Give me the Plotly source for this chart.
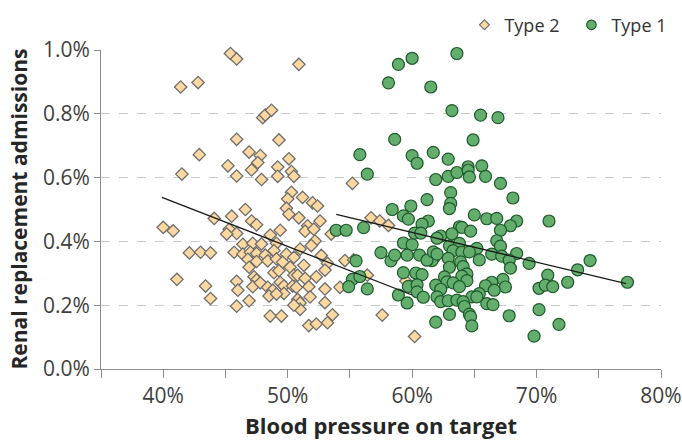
import plotly.graph_objects as go

# Type 2 (diamonds): blood pressure on target (%), renal replacement admissions (%)
type2_x = [45.4, 45.9, 50.9, 41.4, 42.8, 48.0, 48.2, 48.7, 45.9, 49.3,
           42.9, 46.9, 47.8, 50.1, 45.2, 47.6, 47.1, 49.2, 50.3, 41.5,
           45.9, 47.9, 49.2, 50.5, 50.3, 51.2, 50.0, 52.0, 52.4, 49.9,
           50.1, 46.6, 50.9, 45.5, 44.1, 47.1, 47.5, 52.6, 51.6, 51.4,
           52.1, 40.0, 40.8, 45.3, 45.9, 45.1, 49.4, 48.6, 52.2, 51.9,
           51.0, 46.4, 47.2, 47.9, 49.1, 42.1, 43.0, 43.8, 45.7, 46.4,
           47.0, 47.5, 48.2, 48.9, 49.9, 50.5, 52.7, 53.2, 46.8, 47.5,
           48.4, 49.1, 49.6, 51.3, 46.9, 53.0, 50.2, 48.9, 49.3, 50.5,
           50.8, 51.4, 52.3, 47.3, 47.5, 41.1, 43.4, 45.9, 46.0, 47.2,
           47.8, 49.4, 48.4, 48.8, 49.7, 49.7, 50.4, 50.7, 51.7, 53.0,
           48.5, 49.1, 51.8, 50.8, 51.0, 51.0, 50.5, 43.8, 46.9, 45.9,
           53.0, 53.6, 48.6, 49.5, 51.7, 52.3, 53.2, 53.5, 55.2, 56.7,
           57.4, 58.1, 54.6, 55.3, 56.4, 54.2, 59.5, 57.6, 60.2]
type2_y = [0.989, 0.972, 0.955, 0.884, 0.898, 0.788, 0.796, 0.811, 0.720, 0.718,
           0.672, 0.680, 0.669, 0.659, 0.637, 0.647, 0.624, 0.633, 0.619, 0.611,
           0.605, 0.594, 0.604, 0.604, 0.554, 0.538, 0.533, 0.521, 0.511, 0.504,
           0.485, 0.500, 0.474, 0.479, 0.472, 0.464, 0.452, 0.464, 0.449, 0.432,
           0.438, 0.444, 0.433, 0.438, 0.425, 0.423, 0.435, 0.420, 0.401, 0.387,
           0.376, 0.391, 0.394, 0.392, 0.394, 0.364, 0.366, 0.364, 0.366, 0.360,
           0.366, 0.362, 0.357, 0.371, 0.360, 0.350, 0.356, 0.331, 0.344, 0.337,
           0.339, 0.345, 0.335, 0.325, 0.319, 0.310, 0.319, 0.302, 0.308, 0.294,
           0.294, 0.284, 0.289, 0.289, 0.279, 0.281, 0.260, 0.275, 0.247, 0.258,
           0.270, 0.272, 0.256, 0.247, 0.260, 0.237, 0.260, 0.256, 0.258, 0.251,
           0.229, 0.235, 0.226, 0.218, 0.207, 0.187, 0.200, 0.221, 0.214, 0.197,
           0.208, 0.170, 0.166, 0.166, 0.136, 0.141, 0.145, 0.423, 0.582, 0.474,
           0.464, 0.450, 0.340, 0.342, 0.294, 0.256, 0.276, 0.169, 0.102]

# Type 1 (circles)
type1_x = [63.6, 58.9, 60.0, 58.1, 61.5, 63.2, 65.5, 66.9, 58.6, 64.9,
           55.8, 60.0, 60.4, 61.7, 62.9, 56.4, 61.9, 62.9, 63.6, 64.5,
           64.5, 64.6, 65.6, 65.9, 67.1, 63.1, 61.2, 68.1, 63.1, 63.0,
           65.0, 66.0, 66.8, 68.4, 67.9, 67.1, 61.3, 63.8, 64.0, 64.7,
           62.3, 63.2, 62.0, 66.8, 63.0, 63.8, 65.2, 67.1, 63.3, 64.0,
           64.6, 66.4, 67.2, 68.4, 67.8, 69.4, 61.8, 61.6, 62.9, 65.4,
           63.9, 64.1, 63.0, 67.9, 64.4, 64.0, 62.6, 62.8, 64.4, 63.3,
           63.8, 61.9, 62.3, 67.3, 66.4, 65.9, 67.5, 66.6, 65.4, 64.8,
           65.2, 62.0, 62.3, 62.9, 63.6, 64.1, 64.2, 66.0, 66.5, 70.2,
           70.2, 63.0, 64.6, 64.7, 67.8, 61.9, 64.8, 69.8, 71.0, 74.3,
           73.3, 70.9, 70.7, 71.3, 72.5, 77.3, 71.8, 59.9, 58.4, 59.3,
           59.7, 60.8, 53.9, 54.7, 56.1, 60.2, 60.7, 59.3, 60.0, 57.5,
           58.3, 58.6, 59.6, 60.6, 61.2, 61.7, 62.0, 55.5, 59.3, 60.3,
           60.8, 55.2, 55.8, 54.9, 56.4, 59.7, 60.4, 60.4, 58.9, 60.9,
           59.6]
type1_y = [0.989, 0.955, 0.974, 0.897, 0.884, 0.810, 0.796, 0.788, 0.720, 0.718,
           0.672, 0.669, 0.645, 0.679, 0.658, 0.611, 0.594, 0.604, 0.616, 0.634,
           0.623, 0.602, 0.637, 0.604, 0.582, 0.553, 0.531, 0.536, 0.519, 0.503,
           0.483, 0.471, 0.472, 0.464, 0.449, 0.435, 0.464, 0.446, 0.444, 0.432,
           0.417, 0.424, 0.410, 0.402, 0.386, 0.394, 0.378, 0.385, 0.371, 0.366,
           0.367, 0.360, 0.354, 0.362, 0.341, 0.331, 0.352, 0.340, 0.347, 0.342,
           0.336, 0.321, 0.319, 0.316, 0.298, 0.291, 0.289, 0.273, 0.277, 0.270,
           0.258, 0.263, 0.250, 0.281, 0.272, 0.261, 0.257, 0.247, 0.236, 0.226,
           0.226, 0.226, 0.211, 0.214, 0.216, 0.211, 0.196, 0.205, 0.202, 0.253,
           0.186, 0.171, 0.172, 0.164, 0.167, 0.147, 0.135, 0.103, 0.464, 0.340,
           0.311, 0.294, 0.263, 0.258, 0.272, 0.272, 0.140, 0.511, 0.500, 0.480,
           0.470, 0.454, 0.435, 0.435, 0.443, 0.426, 0.426, 0.395, 0.390, 0.365,
           0.339, 0.357, 0.357, 0.357, 0.341, 0.367, 0.360, 0.339, 0.302, 0.301,
           0.296, 0.281, 0.290, 0.258, 0.251, 0.259, 0.264, 0.242, 0.232, 0.225,
           0.207]

# Trend lines (end points)
trend2_x = [39.9, 60.0]
trend2_y = [0.538, 0.232]
trend1_x = [53.9, 77.2]
trend1_y = [0.485, 0.268]

x_tickvals = [35, 40, 45, 50, 55, 60, 65, 70, 75, 80]
x_ticktext = ["", "40%", "", "50%", "", "60%", "", "70%", "", "80%"]
y_tickvals = [0.0, 0.2, 0.4, 0.6, 0.8, 1.0]
y_ticktext = ["0.0%", "0.2%", "0.4%", "0.6%", "0.8%", "1.0%"]

x_title = "Blood pressure on target"
y_title = "Renal replacement admissions"

FONT = "Open Sans"
diamond_fill = "#FDD8A0"
diamond_line = "#6E6E6E"
circle_fill = "#63AD6D"
circle_line = "#1F5A2C"

fig = go.Figure()
fig.add_trace(go.Scatter(x=type2_x, y=type2_y, mode="markers", showlegend=False,
                         marker=dict(symbol="diamond", size=9.5, color=diamond_fill,
                                     line=dict(color=diamond_line, width=1.3)),
                         cliponaxis=False))
fig.add_trace(go.Scatter(x=type1_x, y=type1_y, mode="markers", showlegend=False,
                         marker=dict(symbol="circle", size=12, color=circle_fill,
                                     line=dict(color=circle_line, width=1.2)),
                         cliponaxis=False))
fig.add_trace(go.Scatter(x=trend2_x, y=trend2_y, mode="lines", showlegend=False,
                         line=dict(color="#1a1a1a", width=1.3)))
fig.add_trace(go.Scatter(x=trend1_x, y=trend1_y, mode="lines", showlegend=False,
                         line=dict(color="#1a1a1a", width=1.3)))
# legend entries
fig.add_trace(go.Scatter(x=[None], y=[None], mode="markers", name="Type 2",
                         marker=dict(symbol="diamond", size=7.5, color=diamond_fill,
                                     line=dict(color=diamond_line, width=1.2))))
fig.add_trace(go.Scatter(x=[None], y=[None], mode="markers", name="Type 1",
                         marker=dict(symbol="circle", size=9.5, color=circle_fill,
                                     line=dict(color=circle_line, width=1.2))))

fig.update_layout(
    width=682, height=440,
    margin=dict(l=101, r=20.5, t=49.5, b=71, autoexpand=False),
    paper_bgcolor="white", plot_bgcolor="white",
    font=dict(family=FONT, color="#333333"),
    legend=dict(orientation="h", x=0.649, xanchor="left", y=1.078, yanchor="middle",
                font=dict(size=18, color="#333333"), itemwidth=30,
                entrywidth=62, entrywidthmode="pixels",
                bgcolor="rgba(0,0,0,0)", traceorder="normal"),
    xaxis=dict(range=[35, 80], tickvals=x_tickvals, ticktext=x_ticktext,
               showgrid=False, zeroline=False, showline=True, linecolor="#8c8c8c",
               linewidth=1, ticks="outside", ticklen=8, tickcolor="#8c8c8c",
               automargin=False,
               tickfont=dict(size=21, color="#404040"),
               title=dict(text="<b>" + x_title + "</b>", standoff=15,
                          font=dict(size=22, color="#262626"))),
    yaxis=dict(range=[0, 1.0], tickvals=y_tickvals, ticktext=y_ticktext,
               showgrid=True, gridcolor="#c8c8c8", griddash="dash", gridwidth=1,
               zeroline=False, showline=True, linecolor="#8c8c8c", linewidth=1,
               ticks="outside", ticklen=6, tickcolor="#8c8c8c",
               automargin=False,
               tickfont=dict(size=21, color="#404040")),
    annotations=[dict(text="<b>" + y_title + "</b>", textangle=-90,
                      xref="paper", yref="paper", x=-0.148, y=0.5,
                      xanchor="center", yanchor="middle", showarrow=False,
                      font=dict(size=21, color="#262626"))],
)

fig.write_html("out.html", post_script="document.body.style.margin='0px';",
               config={"displayModeBar": False})
